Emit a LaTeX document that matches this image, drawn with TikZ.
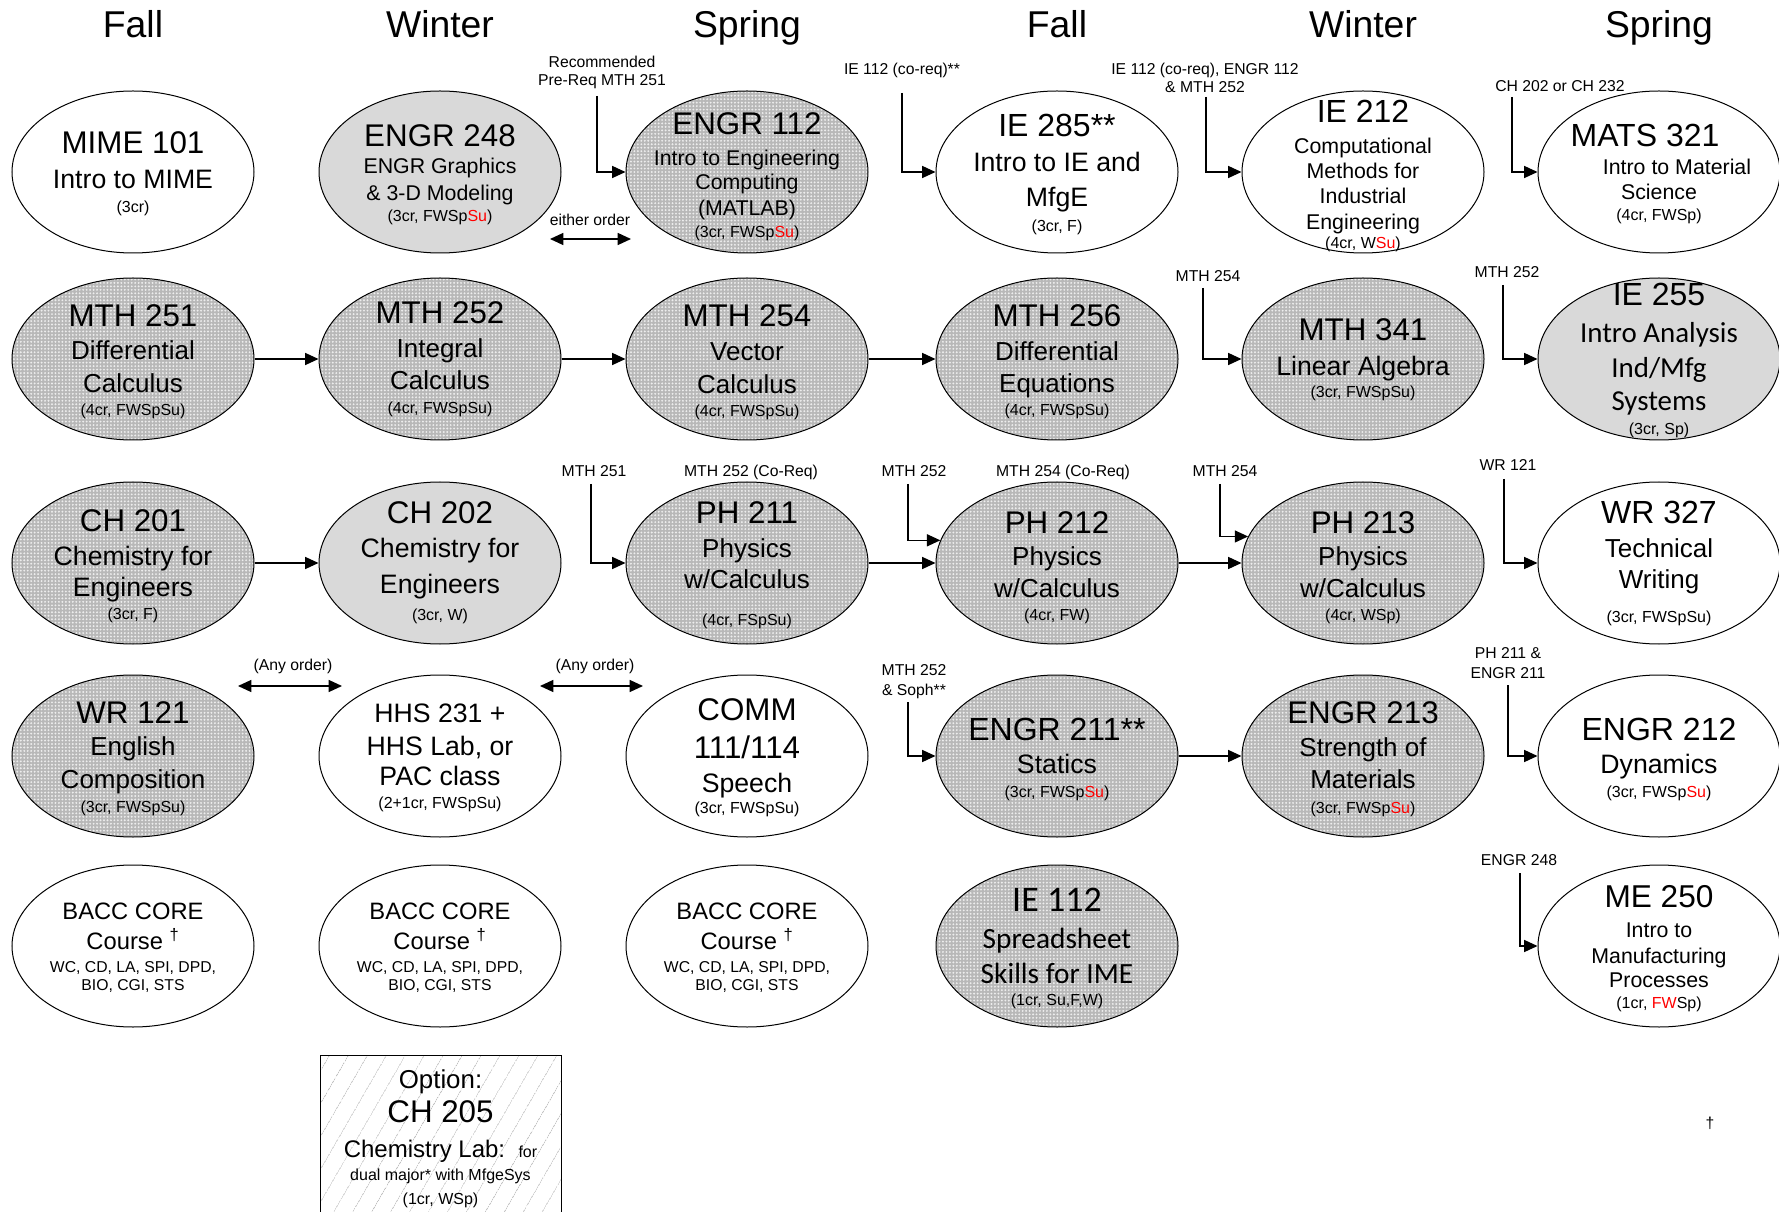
\documentclass[tikz,border=0pt]{standalone}
\usepackage{fontspec}
\setmainfont{Liberation Sans}
\newfontfamily\calfont{Carlito}
\usetikzlibrary{shapes.geometric,arrows.meta,patterns.meta}
\newdimen\pxu \pxu=0.75pt
\newcommand\fs[1]{\fontsize{#1}{0}\selectfont}
\newcommand\rd[1]{\textcolor{red}{#1}}
\newcommand\tp[1]{\rule{0pt}{#1\pxu}}
\newcommand\bt[1]{\rule[-#1\pxu]{0pt}{#1\pxu}}
\newcommand\lstrut{\rule[-13\pxu]{0pt}{26\pxu}}
\tikzset{
  cbase/.style={ellipse, draw, line width=0.75pt, minimum width=181.5pt, minimum height=121.5pt, inner sep=0pt},
  wc/.style={cbase, fill=white},
  gc/.style={cbase, fill=black!15},
  dc/.style={cbase, preaction={fill=black!28}, pattern={Dots[distance=2.6pt,radius=0.8pt]}, pattern color=black!7},
  optbox/.style={rectangle, draw, line width=0.75pt, minimum width=180.75pt, minimum height=118.5pt, inner sep=0pt, preaction={fill=white}, pattern={Lines[angle=60,distance=13pt,line width=0.5pt]}, pattern color=black!25},
  txt/.style={inner sep=0pt, align=center, font=\fs{12}},
  lbl/.style={inner sep=0pt, align=center, font=\fs{11.8}},
  hd/.style={inner sep=0pt, anchor=base, font=\fs{28}},
  arr/.style={line width=1pt, -{Triangle[length=10pt,width=9pt]}},
  darr/.style={line width=1pt, {Triangle[length=10pt,width=9pt]}-{Triangle[length=10pt,width=9pt]}},
}
\begin{document}
\begin{tikzpicture}[x=0.75pt, y=-0.75pt]
\lineskiplimit=-1000pt \lineskip=0pt
\useasboundingbox (0,0) rectangle (1779,1212);
\fill[white] (0,0) rectangle (1779,1212);

% headers
\node[hd] (h1) at (133,38) {Fall};
\node[hd] (h2) at (440,38) {Winter};
\node[hd] (h3) at (747,38) {Spring};
\node[hd] (h4) at (1057,38) {Fall};
\node[hd] (h5) at (1363,38) {Winter};
\node[hd] (h6) at (1659,38) {Spring};

% row 1
\node[wc] (mime101) at (133,172) {};
\node[txt] (tmime101) at (mime101) {\tp{30}\fs{23.5}MIME 101\\[34.5\pxu]\fs{20}Intro to MIME\\[24\pxu]\fs{12}(3cr)\bt{7.5}};
\node[gc] (engr248) at (440,172) {};
\node[txt] (tengr248) at (engr248) {\tp{30}\fs{23.5}ENGR 248\\[27\pxu]\fs{16}ENGR Graphics\\[27\pxu]\fs{16}\& 3-D Modeling\\[21\pxu]\fs{12}(3cr, FWSp\rd{Su})\bt{5}};
\node[dc] (engr112) at (747,172) {};
\node[txt] (tengr112) at (engr112) {\tp{33}\fs{23.5}ENGR 112\\[31\pxu]\fs{16}Intro to Engineering\\[24\pxu]\fs{16}Computing\\[26\pxu]\fs{16}(MATLAB)\\[22.5\pxu]\fs{12}(3cr, FWSp\rd{Su})\bt{5}};
\node[wc] (ie285) at (1057,172) {};
\node[txt] (tie285) at (ie285) {\tp{30}\fs{24}IE 285**\\[35\pxu]\fs{20}Intro to IE and\\[35\pxu]\fs{20}MfgE\\[25\pxu]\fs{12}(3cr, F)\bt{5}};
\node[wc] (ie212) at (1363,172) {};
\node[txt] (tie212) at (ie212) {\tp{32}\fs{24}IE 212\\[31\pxu]\fs{16}Computational\\[25\pxu]\fs{16}Methods for\\[25\pxu]\fs{16}Industrial\\[26\pxu]\fs{16}Engineering\\[19.5\pxu]\fs{12}(4cr, W\rd{Su})\bt{5}};
\node[wc] (mats321) at (1659,172) {};
\node[txt] (tmats321) at (mats321) {\tp{30}\fs{24}MATS 321\hspace*{28\pxu}\\[28\pxu]\fs{16}\hspace*{36\pxu}Intro to Material\\[25\pxu]\fs{16}Science\hspace*{12\pxu}\\[21\pxu]\fs{12}(4cr, FWSp)\bt{6}};

% row 2
\node[dc] (mth251) at (133,359) {};
\node[txt] (tmth251) at (mth251) {\tp{30}\fs{23.5}MTH 251\\[33\pxu]\fs{19.5}Differential\\[33\pxu]\fs{19.5}Calculus\\[23\pxu]\fs{12}(4cr, FWSpSu)\bt{5}};
\node[dc] (mth252) at (440,359) {};
\node[txt] (tmth252) at (mth252) {\tp{30}\fs{23.5}MTH 252\\[34\pxu]\fs{19.5}Integral\\[32\pxu]\fs{19.5}Calculus\\[24\pxu]\fs{12}(4cr, FWSpSu)\bt{10}};
\node[dc] (mth254) at (747,359) {};
\node[txt] (tmth254) at (mth254) {\tp{31}\fs{23.5}MTH 254\\[34\pxu]\fs{19.5}Vector\\[33\pxu]\fs{19.5}Calculus\\[23\pxu]\fs{12}(4cr, FWSpSu)\bt{5}};
\node[dc] (mth256) at (1057,359) {};
\node[txt] (tmth256) at (mth256) {\tp{30}\fs{23.5}MTH 256\\[34\pxu]\fs{19.5}Differential\\[32\pxu]\fs{19.5}Equations\\[23\pxu]\fs{12}(4cr, FWSpSu)\bt{5}};
\node[dc] (mth341) at (1363,359) {};
\node[txt] (tmth341) at (mth341) {\tp{30}\fs{23.5}MTH 341\\[35\pxu]\fs{20}Linear Algebra\\[22\pxu]\fs{12}(3cr, FWSpSu)\bt{9}};
\node[gc] (ie255) at (1659,359) {};
\node[txt] (tie255) at (ie255) {\tp{30}\fs{24}IE 255\\[36.7\pxu]\calfont\fs{21.7}Intro Analysis\\[35.3\pxu]\calfont\fs{21.7}Ind/Mfg\\[32.7\pxu]\calfont\fs{21.7}Systems\\[24.3\pxu]\fs{12}(3cr, Sp)\bt{7}};

% row 3
\node[dc] (ch201) at (133,563) {};
\node[txt] (tch201) at (ch201) {\tp{30}\fs{23.5}CH 201\\[34\pxu]\fs{20}Chemistry for\\[31\pxu]\fs{20}Engineers\\[23\pxu]\fs{12}(3cr, F)\bt{6}};
\node[gc] (ch202) at (440,563) {};
\node[txt] (tch202) at (ch202) {\tp{30}\fs{23.5}CH 202\\[34\pxu]\fs{20}Chemistry for\\[36\pxu]\fs{20}Engineers\\[27\pxu]\fs{12}(3cr, W)\bt{13}};
\node[dc] (ph211) at (747,563) {};
\node[txt] (tph211) at (ph211) {\tp{30}\fs{23.5}PH 211\\[34\pxu]\fs{19.5}Physics\\[31\pxu]\fs{19.5}w/Calculus\\[37\pxu]\fs{12}(4cr, FSpSu)\bt{8}};
\node[dc] (ph212) at (1057,563) {};
\node[txt] (tph212) at (ph212) {\tp{32}\fs{23.5}PH 212\\[32\pxu]\fs{19.5}Physics\\[32\pxu]\fs{19.5}w/Calculus\\[23\pxu]\fs{12}(4cr, FW)\bt{5}};
\node[dc] (ph213) at (1363,563) {};
\node[txt] (tph213) at (ph213) {\tp{32}\fs{23.5}PH 213\\[32\pxu]\fs{19.5}Physics\\[32\pxu]\fs{19.5}w/Calculus\\[23\pxu]\fs{12}(4cr, WSp)\bt{5}};
\node[wc] (wr327) at (1659,563) {};
\node[txt] (twr327) at (wr327) {\tp{30}\fs{24}WR 327\\[34\pxu]\fs{19.5}Technical\\[31\pxu]\fs{19.5}Writing\\[34\pxu]\fs{12}(3cr, FWSpSu)\bt{11}};

% row 4
\node[dc] (wr121) at (133,756) {};
\node[txt] (twr121) at (wr121) {\tp{30}\fs{23.5}WR 121\\[32\pxu]\fs{19.5}English\\[33\pxu]\fs{19.5}Composition\\[24\pxu]\fs{12}(3cr, FWSpSu)\bt{7}};
\node[wc] (hhs) at (440,756) {};
\node[txt] (thhs) at (hhs) {\tp{30}\fs{20}HHS 231 +\\[33\pxu]\fs{20}HHS Lab, or\\[30\pxu]\fs{20}PAC class\\[23\pxu]\fs{12}(2+1cr, FWSpSu)\bt{12}};
\node[wc] (comm) at (747,756) {};
\node[txt] (tcomm) at (comm) {\tp{30}\fs{23.5}COMM\\[38\pxu]\fs{23.5}111/114\\[34\pxu]\fs{20}Speech\\[21\pxu]\fs{12}(3cr, FWSpSu)\bt{9}};
\node[dc] (engr211) at (1057,756) {};
\node[txt] (tengr211) at (engr211) {\tp{30}\fs{24}ENGR 211**\\[33\pxu]\fs{20}Statics\\[24\pxu]\fs{12}(3cr, FWSp\rd{Su})\bt{5}};
\node[dc] (engr213) at (1363,756) {};
\node[txt] (tengr213) at (engr213) {\tp{30}\fs{23.5}ENGR 213\\[33\pxu]\fs{19.5}Strength of\\[32\pxu]\fs{19.5}Materials\\[25\pxu]\fs{12}(3cr, FWSp\rd{Su})\bt{6}};
\node[wc] (engr212) at (1659,756) {};
\node[txt] (tengr212) at (engr212) {\tp{30}\fs{24}ENGR 212\\[33\pxu]\fs{20}Dynamics\\[24\pxu]\fs{12}(3cr, FWSp\rd{Su})\bt{5}};

% row 5
\node[wc] (bacc1) at (133,946) {};
\node[txt] (tbacc1) at (bacc1) {\tp{25}\fs{17.8}BACC CORE\\[30\pxu]\fs{17.8}Course \textsuperscript{†}\\[23\pxu]\fs{11.8}WC, CD, LA, SPI, DPD,\\[18\pxu]\fs{11.8}BIO, CGI, STS\bt{8}};
\node[wc] (bacc2) at (440,946) {};
\node[txt] (tbacc2) at (bacc2) {\tp{25}\fs{17.8}BACC CORE\\[30\pxu]\fs{17.8}Course \textsuperscript{†}\\[23\pxu]\fs{11.8}WC, CD, LA, SPI, DPD,\\[18\pxu]\fs{11.8}BIO, CGI, STS\bt{8}};
\node[wc] (bacc3) at (747,946) {};
\node[txt] (tbacc3) at (bacc3) {\tp{25}\fs{17.8}BACC CORE\\[30\pxu]\fs{17.8}Course \textsuperscript{†}\\[23\pxu]\fs{11.8}WC, CD, LA, SPI, DPD,\\[18\pxu]\fs{11.8}BIO, CGI, STS\bt{8}};
\node[dc] (ie112) at (1057,946) {};
\node[txt] (tie112) at (ie112) {\tp{30}\calfont\fs{27}IE 112\\[37\pxu]\calfont\fs{22}Spreadsheet\\[35\pxu]\calfont\fs{22}Skills for IME\\[22\pxu]\fs{12}(1cr, Su,F,W)\bt{5}};
\node[wc] (me250) at (1659,946) {};
\node[txt] (tme250) at (me250) {\tp{30}\fs{23.7}ME 250\\[30\pxu]\fs{16}Intro to\\[26\pxu]\fs{16}Manufacturing\\[24\pxu]\fs{16}Processes\\[21\pxu]\fs{12}(1cr, \rd{FW}Sp)\bt{7}};

% option box
\node[optbox] (ch205) at (440.5,1134) {};
\node[txt] (tch205) at (ch205) {\tp{30}\fs{19.4}Option:\\[34\pxu]\fs{23.5}CH 205\\[35\pxu]\fs{18}Chemistry Lab:\ \ {\fs{12}for}\\[23\pxu]\fs{12}dual major* with MfgeSys\\[24\pxu]\fs{12}(1cr, WSp)\bt{5}};

% labels
\node[lbl] (lrec) at (602,76.7) {\lstrut Recommended\\[18\pxu]\lstrut Pre-Req MTH 251};
\node[lbl] (leither) at (590,226) {\lstrut either order};
\node[lbl] (lie285) at (902,75) {\lstrut IE 112 (co-req)**};
\node[lbl] (lie212) at (1205,84) {\lstrut IE 112 (co-req), ENGR 112\\[18\pxu]\lstrut \& MTH 252};
\node[lbl] (lmats) at (1560,91.7) {\lstrut CH 202 or CH 232};
\node[lbl] (l341) at (1208,282) {\lstrut MTH 254};
\node[lbl] (l255) at (1507,278) {\lstrut MTH 252};
\node[lbl] (l211a) at (594,477) {\lstrut MTH 251};
\node[lbl] (l211b) at (751,477) {\lstrut MTH 252 (Co-Req)};
\node[lbl] (l212a) at (914,477) {\lstrut MTH 252};
\node[lbl] (l212b) at (1063,477) {\lstrut MTH 254 (Co-Req)};
\node[lbl] (l213) at (1225,477) {\lstrut MTH 254};
\node[lbl] (l327) at (1508,471) {\lstrut WR 121};
\node[lbl] (lany1) at (293,670) {\lstrut (Any order)};
\node[lbl] (lany2) at (595,670) {\lstrut (Any order)};
\node[lbl] (l211s) at (914,685) {\lstrut MTH 252\\[20\pxu]\lstrut \& Soph**};
\node[lbl] (l212s) at (1508,668) {\lstrut PH 211 \&\\[20\pxu]\lstrut ENGR 211};
\node[lbl] (l250) at (1519,865) {\lstrut ENGR 248};
\node[lbl] (ldag) at (1710,1128) {\lstrut †};

% straight sequence arrows
\draw[arr] (mth251) -- (mth252);
\draw[arr] (mth252) -- (mth254);
\draw[arr] (mth254) -- (mth256);
\draw[arr] (ch201) -- (ch202);
\draw[arr] (ph211) -- (ph212);
\draw[arr] (ph212) -- (ph213);
\draw[arr] (engr211) -- (engr213);

% prerequisite elbows
\coordinate (a1) at (597,96);
\coordinate (a2) at (902,93);
\coordinate (a3) at (1206,97);
\coordinate (a4) at (1512,97);
\coordinate (a5) at (1203,288);
\coordinate (a6) at (1503,285);
\coordinate (a7) at (591,484);
\coordinate (a8) at (908,484);
\coordinate (a9) at (1220,484);
\coordinate (a10) at (1504,479);
\coordinate (a11) at (908,702);
\coordinate (a12) at (1508,685);
\coordinate (a13) at (1520,873);
\draw[arr] (a1) |- (engr112);
\draw[arr] (a2) |- (ie285);
\draw[arr] (a3) |- (ie212);
\draw[arr] (a4) |- (mats321);
\draw[arr] (a5) |- (mth341);
\draw[arr] (a6) |- (ie255);
\draw[arr] (a7) |- (ph211);
\draw[arr] (a8) |- (ph212.169);
\draw[arr] (a9) |- (ph213.167);
\draw[arr] (a10) |- (wr327);
\draw[arr] (a11) |- (engr211);
\draw[arr] (a12) |- (engr212);
\draw[arr] (a13) |- (me250);

% either-order arrows
\coordinate (e1) at (550,239);
\coordinate (e2) at (631,239);
\draw[darr] (e1) -- (e2);
\coordinate (o1) at (238,686);
\coordinate (o2) at (342,686);
\draw[darr] (o1) -- (o2);
\coordinate (o3) at (540,686);
\coordinate (o4) at (643,686);
\draw[darr] (o3) -- (o4);
\end{tikzpicture}
\end{document}
